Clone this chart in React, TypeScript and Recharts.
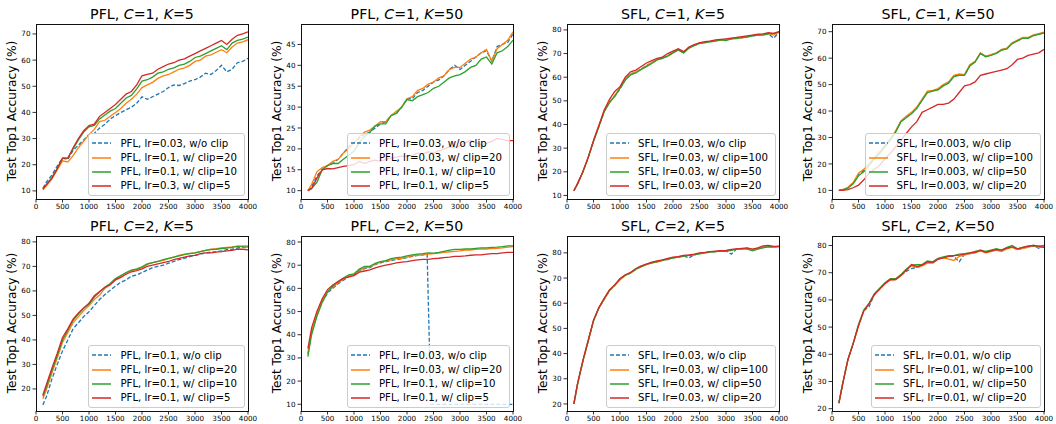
import React from 'react';
import { LineChart, Line, XAxis, YAxis } from 'recharts';

// ---------- data ----------
const X = [130, 200, 300, 400, 500, 600, 700, 800, 900, 1000, 1100, 1200, 1300, 1400, 1500, 1600, 1700, 1800, 1900, 2000, 2100, 2200, 2300, 2400, 2500, 2600, 2700, 2800, 2900, 3000, 3100, 3200, 3300, 3400, 3500, 3600, 3700, 3800, 3900, 4000];
const X_TICKS = [0, 500, 1000, 1500, 2000, 2500, 3000, 3500, 4000];

// PFL, C=1, K=5
const P1_BLUE = [11, 13.5, 16, 19.5, 22.5, 22, 25.5, 27.5, 29.5, 31.5, 32, 34, 35.5, 37.5, 38.8, 40, 41, 42, 43.5, 46, 45, 46, 47, 48, 49.5, 50.5, 50.3, 51, 52, 52.5, 53.5, 55, 54.5, 56, 58, 55.5, 56.5, 59, 59.5, 60.7];
const P1_ORANGE = [10.3, 12, 14.5, 18, 21.5, 21, 23.5, 26.5, 29, 31.5, 33.5, 36.5, 37, 38.5, 40, 41.5, 43.5, 45, 47, 49.5, 50.5, 51.5, 53, 54, 54.5, 55.5, 56.5, 57, 58, 59.5, 60, 61.5, 62, 63, 64, 62.8, 65, 66.5, 67, 67.8];
const P1_GREEN = [10.8, 12.5, 15, 18.5, 22.5, 22.5, 26, 29.5, 32.5, 34.5, 35, 37.5, 39, 40.5, 41.5, 43.5, 45.5, 46.5, 49, 52, 52.5, 53.5, 55, 55.5, 56.5, 57, 58, 58.5, 59.5, 61, 61.5, 62.5, 63.5, 64.5, 65.5, 64, 66.5, 67.5, 68, 68.8];
const P1_RED = [10.8, 12.5, 15, 18.5, 22.5, 22.5, 26.5, 30, 33, 35, 35.5, 38.5, 40, 41.5, 43, 45, 47, 48, 50.5, 54, 54.5, 55, 56.5, 57.5, 58.5, 59, 60, 60.5, 61.5, 62.5, 63.5, 64.5, 65.5, 66.5, 67.5, 66, 68, 69.5, 70, 70.8];
const P1_LABELS = ['PFL, lr=0.03, w/o clip', 'PFL, lr=0.1, w/ clip=20', 'PFL, lr=0.1, w/ clip=10', 'PFL, lr=0.3, w/ clip=5'];

// PFL, C=1, K=50
const P2_BLUE = [10, 11, 13.5, 15, 16, 16.5, 17.5, 19, 20.5, 21.5, 22.5, 23.5, 24, 25, 26, 26.5, 28, 28.5, 30, 32, 32, 33.5, 34, 35, 36, 36.5, 37.5, 39, 40, 39, 40, 41, 42, 43, 43.5, 41, 44.5, 45, 45.5, 47.5];
const P2_ORANGE = [10, 11.5, 14.5, 15.5, 16, 17, 17.5, 19, 20, 21.5, 23, 24, 24.5, 25.5, 26.5, 26.5, 28, 29, 30, 32, 32.5, 34, 34.5, 35.5, 36, 37, 37.5, 39, 39.5, 39.5, 40.5, 41.5, 42, 43, 43.8, 41, 44, 45, 46, 48];
const P2_GREEN = [10, 10.5, 12, 15, 16, 16.5, 16.5, 17.5, 18.5, 19.5, 21.5, 23, 24, 25.5, 26, 26, 28, 28.5, 30, 31.8, 31.5, 32.5, 33, 33.5, 34.5, 35, 36, 37, 37.5, 37.8, 38.5, 39.5, 40, 41.5, 42, 40.3, 43, 43.5, 44.5, 46];
const P2_RED = [10, 10.5, 13, 15, 15.3, 15.2, 15.5, 15.8, 16, 16.2, 17, 16.5, 17, 17.3, 17, 17.5, 17.8, 18, 18.3, 18.2, 18.5, 19, 18.8, 19.3, 19, 19.5, 20, 20.5, 20.3, 20.8, 21.5, 22, 21.5, 21, 21.3, 21.8, 22.5, 22.3, 22, 22];
const P2_LABELS = ['PFL, lr=0.03, w/o clip', 'PFL, lr=0.03, w/ clip=20', 'PFL, lr=0.1, w/ clip=10', 'PFL, lr=0.1, w/ clip=5'];

// SFL, C=1, K=5
const P3_BLUE = [12, 15, 20, 26, 33, 39, 45.5, 49.5, 52, 55, 59, 61.5, 62, 63.5, 65, 66, 67.5, 68, 69, 70.5, 71.8, 70.3, 72.5, 73.5, 74.3, 74.8, 75, 75.5, 75.8, 76, 76.2, 76.5, 76.8, 77.2, 77.5, 77.8, 78, 78.3, 76.5, 79];
const P3_ORANGE = [12, 15, 20, 26.3, 33, 39.5, 45.5, 49, 52.3, 55.5, 59.3, 61.3, 62.3, 63.3, 64.8, 66.3, 67.3, 68.3, 68.8, 70.3, 71.5, 70.5, 72.3, 73.5, 74.5, 74.8, 75.3, 75.5, 75.6, 76, 76.3, 76.8, 76.5, 77.3, 77.8, 77.8, 78.2, 78.5, 77.8, 79];
const P3_GREEN = [12, 15, 20, 26, 32.8, 39, 45.3, 49.3, 51.8, 55.3, 58.8, 61, 61.8, 63.3, 64.5, 65.8, 67.3, 68, 69, 70.3, 71.5, 70.3, 72.3, 73.3, 74.3, 74.5, 75, 75.3, 75.8, 75.5, 76.2, 76.3, 76.8, 77, 77.5, 77.8, 77.8, 78.3, 78.5, 79.2];
const P3_RED = [12, 15, 20, 26, 33.3, 39.5, 46, 50.5, 54, 56, 60, 62.3, 63, 64.5, 66, 67, 68, 68.5, 70, 71, 72, 70.8, 72.8, 73.8, 74.5, 75, 75.3, 75.8, 76, 76.2, 76.5, 76.8, 77.2, 77.5, 77.8, 78.2, 78.3, 78.8, 78.5, 79.3];
const P3_LABELS = ['SFL, lr=0.03, w/o clip', 'SFL, lr=0.03, w/ clip=100', 'SFL, lr=0.03, w/ clip=50', 'SFL, lr=0.03, w/ clip=20'];

// SFL, C=1, K=50
const P4_BLUE = [10, 10.2, 11, 12.8, 16, 17.5, 19.8, 22.2, 24.3, 26.8, 29.3, 32.2, 36, 37.8, 39.2, 41.2, 44.2, 47.2, 47.6, 48.2, 49.8, 50.8, 53.2, 53.8, 53.6, 57.2, 58.6, 61.8, 60.6, 61.2, 61.9, 63.1, 63.6, 65.6, 66.6, 67.6, 67.6, 68.6, 69.1, 69.6];
const P4_ORANGE = [10, 10.3, 11.2, 13, 16.5, 18, 20, 22.5, 24.5, 27, 29.5, 32.5, 36.3, 38, 39.5, 41.5, 44.5, 47.5, 47.8, 48.5, 50, 51, 53.5, 54, 53.8, 57.5, 58.8, 62, 60.8, 61.3, 62, 63.3, 63.8, 65.8, 66.8, 67.8, 67.8, 68.8, 69.3, 69.8];
const P4_GREEN = [10, 10.2, 10.8, 12.5, 15.5, 17, 19.5, 22, 24, 26.5, 29, 32, 36, 37.5, 39, 41, 44, 47, 47.5, 48, 49.5, 50.5, 53, 53.5, 53.5, 57, 58.5, 61.8, 60.5, 61, 61.8, 63, 63.5, 65.5, 66.5, 67.5, 67.5, 68.5, 69, 69.5];
const P4_RED = [10, 10, 10.3, 11, 12, 14, 16.5, 18, 19.5, 22, 24, 26.5, 29, 31.5, 34, 36, 39.5, 40.5, 41.5, 42.5, 42.5, 43, 44.5, 47, 49.5, 50, 51, 53.5, 54, 54.5, 55, 55.5, 56, 57.5, 59.5, 60, 61, 61.5, 62, 63.3];
const P4_LABELS = ['SFL, lr=0.003, w/o clip', 'SFL, lr=0.003, w/ clip=100', 'SFL, lr=0.003, w/ clip=50', 'SFL, lr=0.003, w/ clip=20'];

// PFL, C=2, K=5
const P5_BLUE = [13.5, 17, 24, 30, 35.5, 40, 44.5, 47, 49.5, 51.5, 54, 56.5, 58.5, 60.3, 62, 63.5, 64.5, 66, 66.5, 67.5, 68.5, 69.5, 70, 70.5, 71.3, 72, 72.8, 73.3, 74, 74.5, 75, 75.5, 75.8, 76, 76.3, 76.8, 77, 77.5, 77.8, 77.5];
const P5_ORANGE = [16, 20, 26.5, 32.5, 39, 43, 47, 49.5, 52, 54, 56.5, 58.3, 61, 62.5, 64.5, 66, 67.3, 68.3, 68.8, 69.5, 70.8, 71.5, 72, 72.5, 73.2, 73.8, 74.5, 75, 75.3, 75.5, 76, 76.5, 77, 77.2, 77.5, 77.8, 78, 78.3, 78, 77.8];
const P5_GREEN = [17, 21, 27.5, 33.5, 40, 44, 48, 50.5, 53, 54.5, 57.5, 59.5, 61.5, 63, 65, 66.3, 67.5, 68.5, 69, 69.8, 71, 71.5, 72, 72.8, 73.3, 73.8, 74.3, 74.8, 75.2, 75.5, 76, 76.5, 76.8, 77, 77.3, 77.5, 77.8, 78.2, 78.3, 78.3];
const P5_RED = [17.5, 22, 28.5, 34.5, 41, 44.5, 48.5, 51, 53, 55, 58, 59.8, 61.5, 62.5, 64.5, 65.5, 66.8, 67.8, 68.3, 69, 70, 70.5, 71, 71.5, 72, 72.8, 73.3, 73.8, 74.3, 74.5, 75.2, 75.5, 75.5, 75.8, 76, 76.3, 76.5, 77, 77, 76.7];
const P5_LABELS = ['PFL, lr=0.1, w/o clip', 'PFL, lr=0.1, w/ clip=20', 'PFL, lr=0.1, w/ clip=10', 'PFL, lr=0.1, w/ clip=5'];

// PFL, C=2, K=50
const P6_BLUE_X = [130, 200, 300, 400, 500, 600, 700, 800, 900, 1000, 1100, 1200, 1300, 1400, 1500, 1600, 1700, 1800, 1900, 2000, 2100, 2200, 2300, 2380, 2450, 4000];
const P6_BLUE = [31.5, 41, 48.5, 54, 58, 60, 62, 63.5, 65, 65.8, 67.5, 68.5, 69, 70.3, 71, 71.5, 72, 72.5, 72.8, 73.3, 73.8, 74.2, 74.5, 74.8, 10, 10];
const P6_ORANGE = [32, 41.5, 49, 54.5, 58.5, 60.5, 62.5, 64, 65.3, 66, 67.8, 68.8, 69.3, 70.5, 71.3, 71.8, 72.3, 72.8, 73, 73.5, 74, 74.3, 74.5, 74.8, 75, 75.2, 75.5, 75.8, 76, 76.2, 76.5, 76.5, 76.8, 77, 77, 77.2, 77.3, 77.5, 77.8, 78];
const P6_GREEN = [30.5, 40, 48, 54, 58.5, 61, 63, 64.5, 65.8, 66.3, 68.3, 69.5, 69.5, 70.8, 71.5, 72, 72.8, 73.3, 73.5, 74, 74.5, 74.8, 75, 75.3, 75.2, 75.5, 76, 76.5, 76.8, 76.8, 77, 77, 77.3, 77.5, 77.5, 77.7, 77.8, 78, 78.3, 78.3];
const P6_RED = [34, 43, 50, 55.5, 59.5, 61.5, 63, 64.3, 65, 65.5, 67, 67.5, 68, 68.8, 69.5, 70, 70.5, 71, 71.3, 71.5, 72, 72.3, 72.5, 72.5, 72.8, 73, 73.3, 73.5, 73.8, 73.8, 74, 74.3, 74.5, 74.5, 74.8, 75, 75, 75.3, 75.5, 75.5];
const P6_LABELS = ['PFL, lr=0.03, w/o clip', 'PFL, lr=0.03, w/ clip=20', 'PFL, lr=0.1, w/ clip=10', 'PFL, lr=0.1, w/ clip=5'];

// SFL, C=2, K=5
const P7_BLUE = [20, 28, 37, 45, 53, 58, 61.5, 65, 67, 69.5, 71, 72, 73.5, 74.5, 75.5, 76, 76.5, 77, 77.3, 78, 78.3, 78.8, 78, 79.2, 79.8, 80, 80.3, 80.5, 80.7, 80.8, 79.5, 81.5, 81.7, 81.8, 81.3, 81.8, 82.3, 82.6, 82.4, 82.6];
const P7_ORANGE = [20, 28, 37, 45, 53, 58, 61.5, 65, 67, 69.3, 71, 72, 73.5, 74.5, 75.3, 76, 76.3, 77, 77.5, 78, 78.5, 78.8, 79, 79.3, 79.8, 80, 80.5, 80.5, 80.8, 80.8, 81.2, 81.5, 81.5, 81.8, 81.3, 81.8, 82.2, 82.4, 82.3, 82.4];
const P7_GREEN = [20, 28, 37, 45, 53, 58, 61.8, 65, 67.3, 69.5, 71.2, 72, 73.5, 74.5, 75.5, 76, 76.5, 77, 77.5, 78, 78.3, 78.6, 79, 79.2, 79.6, 80, 80.3, 80.5, 80.7, 80.6, 81, 81.5, 81.7, 81.5, 80.8, 81.5, 82, 82.5, 82.4, 82.6];
const P7_RED = [20, 28.3, 37.3, 45.3, 53.3, 58.3, 61.8, 65.3, 67.3, 69.8, 71.3, 72.3, 73.8, 74.8, 75.5, 76.3, 76.8, 77.2, 77.8, 78.3, 78.5, 79, 79.2, 79.5, 80, 80.2, 80.5, 80.7, 80.9, 81, 81.4, 81.6, 81.8, 82, 81.5, 82, 82.8, 83, 82.6, 82.6];
const P7_LABELS = ['SFL, lr=0.03, w/o clip', 'SFL, lr=0.03, w/ clip=100', 'SFL, lr=0.03, w/ clip=50', 'SFL, lr=0.03, w/ clip=20'];

// SFL, C=2, K=50
const P8_BLUE = [22, 29, 38, 44, 50.5, 56, 57.5, 62, 64, 66, 67.5, 67.5, 69, 70.5, 71.5, 72, 72.5, 74, 73.5, 75, 75.5, 76, 76, 74, 76.8, 77, 77.5, 78, 77.5, 78, 78.5, 78, 79, 79.5, 78.5, 79, 79.5, 80, 79, 79.5];
const P8_ORANGE = [22, 29, 38, 44, 50.5, 56, 58.5, 62, 64, 66, 67.3, 67.5, 69, 71, 72.5, 72, 72.5, 73.5, 73.5, 75, 75.5, 75, 74.5, 76, 76.5, 77, 77.3, 78, 77.3, 77.8, 78.3, 77.8, 78.8, 79.3, 78.5, 79, 79.3, 80, 79.3, 79.3];
const P8_GREEN = [22, 29, 38, 44, 51, 56.3, 58.8, 62.3, 64.3, 66.3, 67.8, 67.8, 69.3, 71.3, 72.8, 73, 73, 74.3, 74, 75.3, 75.8, 76.3, 76.3, 76.8, 77, 77.3, 77.8, 78.3, 77.8, 78.3, 78.8, 78.3, 79.3, 80, 78.8, 79.3, 79.8, 80, 79.8, 80];
const P8_RED = [22, 29, 38, 44, 50.5, 56, 58.5, 62, 64, 66, 67.5, 67.5, 69, 71, 73, 72.3, 72.8, 74, 73.8, 75, 75.5, 76, 76.3, 76.5, 76.8, 77.3, 77.5, 78.3, 77.5, 78, 78.5, 78.3, 79, 79.5, 78.8, 79.3, 79.8, 80, 79.8, 79.3];
const P8_LABELS = ['SFL, lr=0.01, w/o clip', 'SFL, lr=0.01, w/ clip=100', 'SFL, lr=0.01, w/ clip=50', 'SFL, lr=0.01, w/ clip=20'];

const Y_TICKS_10_70 = [10, 20, 30, 40, 50, 60, 70];
const Y_TICKS_10_45 = [10, 15, 20, 25, 30, 35, 40, 45];
const Y_TICKS_10_80 = [10, 20, 30, 40, 50, 60, 70, 80];
const Y_TICKS_20_80 = [20, 30, 40, 50, 60, 70, 80];

// ---------- style ----------
const COLORS = ['#1f77b4', '#ff7f0e', '#2ca02c', '#d62728'];
const FONT = '"DejaVu Sans", sans-serif';
const PW = 212;
const PH = 175;
const COL_LEFT = [36, 301, 567, 832];
const ROW_TOP = [24, 236];
const YW = 30;
const MT = 5;
const MR = 12;
const XH = 16;

type PanelDef = {
  col: number;
  row: number;
  method: string;
  c: string;
  k: string;
  domain: [number, number];
  yTicks: number[];
  labels: string[];
  series: { xs: number[]; ys: number[] }[];
};

const PANELS: PanelDef[] = [
  { col: 0, row: 0, method: 'PFL', c: '1', k: '5', domain: [6.9, 73.8], yTicks: Y_TICKS_10_70, labels: P1_LABELS,
    series: [{ xs: X, ys: P1_BLUE }, { xs: X, ys: P1_ORANGE }, { xs: X, ys: P1_GREEN }, { xs: X, ys: P1_RED }] },
  { col: 1, row: 0, method: 'PFL', c: '1', k: '50', domain: [8, 49.9], yTicks: Y_TICKS_10_45, labels: P2_LABELS,
    series: [{ xs: X, ys: P2_BLUE }, { xs: X, ys: P2_ORANGE }, { xs: X, ys: P2_GREEN }, { xs: X, ys: P2_RED }] },
  { col: 2, row: 0, method: 'SFL', c: '1', k: '5', domain: [8.5, 82.5], yTicks: Y_TICKS_10_80, labels: P3_LABELS,
    series: [{ xs: X, ys: P3_BLUE }, { xs: X, ys: P3_ORANGE }, { xs: X, ys: P3_GREEN }, { xs: X, ys: P3_RED }] },
  { col: 3, row: 0, method: 'SFL', c: '1', k: '50', domain: [6.75, 72.9], yTicks: Y_TICKS_10_70, labels: P4_LABELS,
    series: [{ xs: X, ys: P4_BLUE }, { xs: X, ys: P4_ORANGE }, { xs: X, ys: P4_GREEN }, { xs: X, ys: P4_RED }] },
  { col: 0, row: 1, method: 'PFL', c: '2', k: '5', domain: [11, 82.4], yTicks: Y_TICKS_20_80, labels: P5_LABELS,
    series: [{ xs: X, ys: P5_BLUE }, { xs: X, ys: P5_ORANGE }, { xs: X, ys: P5_GREEN }, { xs: X, ys: P5_RED }] },
  { col: 1, row: 1, method: 'PFL', c: '2', k: '50', domain: [7.1, 82.6], yTicks: Y_TICKS_10_80, labels: P6_LABELS,
    series: [{ xs: P6_BLUE_X, ys: P6_BLUE }, { xs: X, ys: P6_ORANGE }, { xs: X, ys: P6_GREEN }, { xs: X, ys: P6_RED }] },
  { col: 2, row: 1, method: 'SFL', c: '2', k: '5', domain: [17.2, 86.7], yTicks: Y_TICKS_20_80, labels: P7_LABELS,
    series: [{ xs: X, ys: P7_BLUE }, { xs: X, ys: P7_ORANGE }, { xs: X, ys: P7_GREEN }, { xs: X, ys: P7_RED }] },
  { col: 3, row: 1, method: 'SFL', c: '2', k: '50', domain: [19.15, 83.5], yTicks: Y_TICKS_20_80, labels: P8_LABELS,
    series: [{ xs: X, ys: P8_BLUE }, { xs: X, ys: P8_ORANGE }, { xs: X, ys: P8_GREEN }, { xs: X, ys: P8_RED }] },
];

const tickStyle = { fontSize: 7.2, fill: '#000', fontFamily: FONT };

function Panel({ p }: { p: PanelDef }) {
  const left = COL_LEFT[p.col];
  const top = ROW_TOP[p.row];
  return (
    <>
      <div style={{ position: 'absolute', left: left - YW, top: top - MT }}>
        <LineChart width={YW + PW + MR} height={MT + PH + XH} margin={{ top: MT, right: MR, left: 0, bottom: 0 }}>
          <XAxis
            type="number"
            dataKey="x"
            domain={[0, 4000]}
            ticks={X_TICKS}
            interval={0}
            height={XH}
            axisLine={false}
            tickLine={{ stroke: '#000', strokeWidth: 0.8 }}
            tickSize={3.5}
            tickMargin={1}
            tick={tickStyle}
            allowDataOverflow
          />
          <YAxis
            type="number"
            domain={p.domain}
            ticks={p.yTicks}
            interval={0}
            width={YW}
            axisLine={false}
            tickLine={{ stroke: '#000', strokeWidth: 0.8 }}
            tickSize={3.5}
            tickMargin={2}
            tick={tickStyle}
            allowDataOverflow
          />
          {p.series.map((s, i) => (
            <Line
              key={i}
              data={s.ys.map((y, j) => ({ x: s.xs[j], y }))}
              dataKey="y"
              type="linear"
              stroke={COLORS[i]}
              strokeWidth={1.3}
              strokeDasharray={i === 0 ? '4 2' : undefined}
              dot={false}
              activeDot={false}
              isAnimationActive={false}
            />
          ))}
        </LineChart>
      </div>
      {/* frame */}
      <div
        style={{
          position: 'absolute',
          left: left - 0.5,
          top: top - 0.5,
          width: PW + 1,
          height: PH + 1,
          border: '1px solid #111',
          boxSizing: 'border-box',
          pointerEvents: 'none',
        }}
      />
      {/* title */}
      <div
        style={{
          position: 'absolute',
          left: left - 20,
          width: PW + 40,
          top: top - 17,
          textAlign: 'center',
          fontFamily: FONT,
          fontSize: 14.2,
          lineHeight: '14px',
          whiteSpace: 'nowrap',
          color: '#000',
        }}
      >
        {p.method}, <i>C</i>={p.c}, <i>K</i>={p.k}
      </div>
      {/* y label */}
      <div
        style={{
          position: 'absolute',
          left: left - 24,
          top: top + PH / 2 - 1,
          transform: 'translate(-50%, -50%) rotate(-90deg)',
          fontFamily: FONT,
          fontSize: 12.2,
          whiteSpace: 'nowrap',
          color: '#000',
        }}
      >
        Test Top1 Accuracy (%)
      </div>
      {/* legend */}
      <div
        style={{
          position: 'absolute',
          right: 1056 - (left + PW) + 3,
          bottom: 424 - (top + PH) + 3,
          background: 'rgba(255,255,255,0.8)',
          border: '1px solid #cccccc',
          borderRadius: 3,
          padding: '2px 7px 2px 3px',
          fontFamily: FONT,
          fontSize: 10.2,
          color: '#000',
        }}
      >
        {p.labels.map((lab, i) => (
          <div key={i} style={{ display: 'flex', alignItems: 'center', height: 14.2, whiteSpace: 'nowrap' }}>
            <svg width={19} height={6} style={{ marginRight: 9, flex: 'none' }}>
              <line
                x1={0}
                y1={3}
                x2={19}
                y2={3}
                stroke={COLORS[i]}
                strokeWidth={1.5}
                strokeDasharray={i === 0 ? '4 2' : undefined}
              />
            </svg>
            <span>{lab}</span>
          </div>
        ))}
      </div>
    </>
  );
}

export default function App() {
  return (
    <div style={{ position: 'absolute', left: 0, top: 0, width: 1056, height: 424, background: '#fff', overflow: 'hidden' }}>
      {PANELS.map((p, i) => (
        <Panel key={i} p={p} />
      ))}
    </div>
  );
}
